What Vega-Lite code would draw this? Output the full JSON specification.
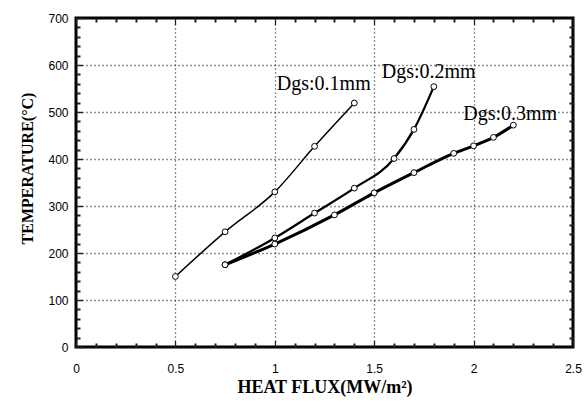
{
  "$schema": "https://vega.github.io/schema/vega-lite/v6.json",
  "width": 497,
  "height": 329,
  "autosize": {"type": "none"},
  "padding": {"left": 76, "top": 18, "right": 14, "bottom": 61},
  "background": "white",
  "config": {"view": {"stroke": "black", "strokeWidth": 3}},
  "datasets": {
    "curves": [
      {"series": "0.1mm", "flux": 0.5, "temp": 150},
      {"series": "0.1mm", "flux": 0.75, "temp": 245},
      {"series": "0.1mm", "flux": 1.0, "temp": 330},
      {"series": "0.1mm", "flux": 1.2, "temp": 427},
      {"series": "0.1mm", "flux": 1.4, "temp": 519},
      {"series": "0.2mm", "flux": 0.75, "temp": 175},
      {"series": "0.2mm", "flux": 1.0, "temp": 232},
      {"series": "0.2mm", "flux": 1.2, "temp": 285},
      {"series": "0.2mm", "flux": 1.4, "temp": 338},
      {"series": "0.2mm", "flux": 1.6, "temp": 401},
      {"series": "0.2mm", "flux": 1.7, "temp": 463},
      {"series": "0.2mm", "flux": 1.8, "temp": 554},
      {"series": "0.3mm", "flux": 0.75, "temp": 175},
      {"series": "0.3mm", "flux": 1.0, "temp": 219},
      {"series": "0.3mm", "flux": 1.3, "temp": 281},
      {"series": "0.3mm", "flux": 1.5, "temp": 328},
      {"series": "0.3mm", "flux": 1.7, "temp": 371},
      {"series": "0.3mm", "flux": 1.9, "temp": 412},
      {"series": "0.3mm", "flux": 2.0, "temp": 428},
      {"series": "0.3mm", "flux": 2.1, "temp": 446},
      {"series": "0.3mm", "flux": 2.2, "temp": 472}
    ],
    "labels": [
      {"flux": 1.01, "temp": 547, "text": "Dgs:0.1mm"},
      {"flux": 1.538, "temp": 572, "text": "Dgs:0.2mm"},
      {"flux": 1.948, "temp": 483, "text": "Dgs:0.3mm"}
    ]
  },
  "resolve": {"axis": {"x": "independent", "y": "independent"}},
  "layer": [
    {
      "data": {"name": "curves"},
      "mark": {"type": "line", "interpolate": "monotone", "color": "black"},
      "encoding": {
        "x": {
          "field": "flux", "type": "quantitative",
          "scale": {"domain": [0, 2.5], "nice": false, "zero": false},
          "axis": {
            "orient": "bottom",
            "values": [0,0.1,0.2,0.3,0.4,0.5,0.6,0.7,0.8,0.9,1,1.1,1.2,1.3,1.4,1.5,1.6,1.7,1.8,1.9,2,2.1,2.2,2.3,2.4,2.5],
            "labelExpr": "abs(datum.value*2 - round(datum.value*2)) < 0.001 ? format(datum.value, '~g') : ''",
            "ticks": false, "domain": false,
            "grid": true, "gridColor": "#222222",
            "gridWidth": {"condition": {"test": "abs(datum.value*2 - round(datum.value*2)) < 0.001", "value": 1.3}, "value": 2},
            "gridDash": {"condition": {"test": "abs(datum.value*2 - round(datum.value*2)) < 0.001", "value": [7,3,1,3,1,3,1,3,1,3,1,3,1,3,1,3,1,3,1,3,1,3,1,3,1,3,1,3,1,3,1,3,1,3,1,3,1,3,1,3,1,3,1,3,1,3,1,3,1,3,1,3,1,3,1,3,1,3,1,3,1,3,1,3,1,3,1,3,1,3,1,3,1,3,1,3,1,3,1,3,1,3,1,3,1,3,1,3,1,3,1,3,1,3,1,3,1,3,1,3,1,3,1,3,1,3,1,3,1,3,1,3,1,3,1,3,1,3,1,3,1,3,1,3,1,3,1,3,1,3,1,3,1,3,1,3,1,3,1,3,1,3,1,3,1,3,1,3,1,3,1,3,1,3,1,3,1,3,7,100]}, "value": [4,321,4,100]},
            "labelFont": "Liberation Sans", "labelFontSize": 12, "labelColor": "black",
            "labelPadding": 16, "labelFlush": false, "labelOverlap": false,
            "title": "HEAT FLUX(MW/m²)",
            "titleFont": "Liberation Serif", "titleFontWeight": "bold", "titleFontSize": 18, "titleColor": "black",
            "titleBaseline": "alphabetic", "titleY": 45
          }
        },
        "y": {
          "field": "temp", "type": "quantitative",
          "scale": {"domain": [0, 700], "nice": false},
          "axis": {
            "orient": "left",
            "values": [0,20,40,60,80,100,120,140,160,180,200,220,240,260,280,300,320,340,360,380,400,420,440,460,480,500,520,540,560,580,600,620,640,660,680,700],
            "labelExpr": "datum.value % 100 === 0 ? datum.label : ''",
            "ticks": false, "domain": false,
            "grid": true, "gridColor": "#222222",
            "gridWidth": {"condition": {"test": "datum.value % 100 === 0", "value": 1.3}, "value": 2},
            "gridDash": {"condition": {"test": "datum.value % 100 === 0", "value": [7,3,1,3,1,3,1,3,1,3,1,3,1,3,1,3,1,3,1,3,1,3,1,3,1,3,1,3,1,3,1,3,1,3,1,3,1,3,1,3,1,3,1,3,1,3,1,3,1,3,1,3,1,3,1,3,1,3,1,3,1,3,1,3,1,3,1,3,1,3,1,3,1,3,1,3,1,3,1,3,1,3,1,3,1,3,1,3,1,3,1,3,1,3,1,3,1,3,1,3,1,3,1,3,1,3,1,3,1,3,1,3,1,3,1,3,1,3,1,3,1,3,1,3,1,3,1,3,1,3,1,3,1,3,1,3,1,3,1,3,1,3,1,3,1,3,1,3,1,3,1,3,1,3,1,3,1,3,1,3,1,3,1,3,1,3,1,3,1,3,1,3,1,3,1,3,1,3,1,3,1,3,1,3,1,3,1,3,1,3,1,3,1,3,1,3,1,3,1,3,1,3,1,3,1,3,1,3,1,3,1,3,1,3,1,3,1,3,1,3,1,3,1,3,1,3,1,3,1,3,1,3,1,3,1,3,1,3,1,3,1,3,1,3,1,3,1,3,1,3,7,100]}, "value": [4,489,4,100]},
            "labelFont": "Liberation Sans", "labelFontSize": 12, "labelColor": "black",
            "labelPadding": 8, "labelFlush": false, "labelOverlap": false,
            "title": "TEMPERATURE(°C)",
            "titleFont": "Liberation Serif", "titleFontWeight": "bold", "titleFontSize": 16, "titleColor": "black",
            "titleAngle": 270, "titleBaseline": "alphabetic", "titleAlign": "center",
            "titleX": -44, "titleY": 150
          }
        },
        "detail": {"field": "series", "type": "nominal"},
        "strokeWidth": {
          "field": "series", "type": "nominal",
          "scale": {"domain": ["0.1mm", "0.2mm", "0.3mm"], "range": [1.5, 3, 5.5]},
          "legend": null
        }
      }
    },
    {
      "data": {"name": "curves"},
      "mark": {"type": "point", "shape": "circle", "filled": true, "fill": "white", "stroke": "black", "strokeWidth": 1, "size": 34, "opacity": 1},
      "encoding": {
        "x": {"field": "flux", "type": "quantitative", "axis": null},
        "y": {"field": "temp", "type": "quantitative", "axis": null}
      }
    },
    {
      "data": {"name": "labels"},
      "mark": {"type": "text", "font": "Liberation Serif", "fontSize": 20, "align": "left", "baseline": "alphabetic", "color": "black"},
      "encoding": {
        "x": {"field": "flux", "type": "quantitative", "axis": null},
        "y": {"field": "temp", "type": "quantitative", "axis": null},
        "text": {"field": "text", "type": "nominal"}
      }
    }
  ]
}
